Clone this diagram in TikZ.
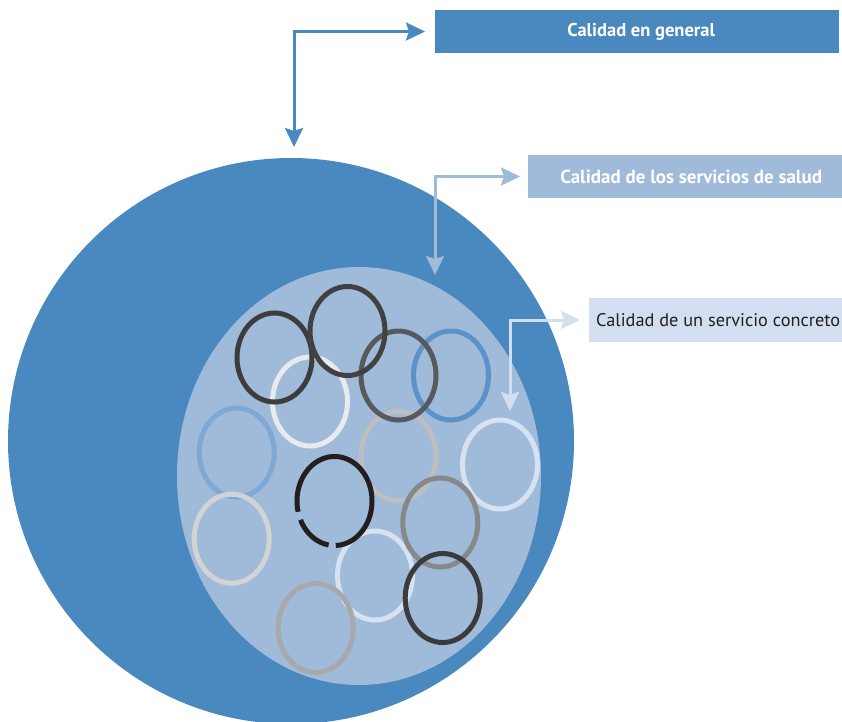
\documentclass[tikz,border=0pt]{standalone}
\usepackage{fontspec}
\setmainfont{PT Sans}
\usetikzlibrary{arrows.meta}
\definecolor{deepblue}{HTML}{4A89C0}
\definecolor{midblue}{HTML}{A0BAD9}
\definecolor{paleblue}{HTML}{D3DFF0}
\definecolor{inkdark}{HTML}{231F20}
\begin{document}
\begin{tikzpicture}[x=1pt,y=-1pt,
  ring/.style={line width=5pt},
  labelbox/.style={anchor=north west, minimum height=43pt, inner sep=0pt},
  elbow/.style={line width=3pt, line join=miter,
    {Stealth[length=19pt,width=18pt,inset=3pt]}-{Stealth[length=19pt,width=18pt,inset=3pt]}}
]
\useasboundingbox (0,0) rectangle (842,721);

% outer and inner discs
\begin{scope}
  \clip (0,0) rectangle (842,721);
  \fill[deepblue] (291,441) circle [radius=283];
\end{scope}
\fill[midblue] (359,476) ellipse [x radius=182, y radius=209];

% individual services
\draw[ring, color={rgb,255:red,214;green,226;blue,241}] (500,464.5) ellipse [x radius=37.5, y radius=44.5];
\draw[ring, color={rgb,255:red,126;green,168;blue,214}] (236.7,452.5) ellipse [x radius=37.5, y radius=44.5];
\draw[ring, color={rgb,255:red,209;green,211;blue,212}] (231.7,538.7) ellipse [x radius=37.5, y radius=44.5];
\draw[ring, color={rgb,255:red,214;green,226;blue,241}] (375,575.5) ellipse [x radius=37.5, y radius=44.5];
\draw[ring, color={rgb,255:red,188;green,190;blue,192}] (398.5,456) ellipse [x radius=37.5, y radius=44.5];
\draw[ring, color={rgb,255:red,232;green,234;blue,238}] (310,401.5) ellipse [x radius=37.5, y radius=44.5];
\draw[ring, color={rgb,255:red,91;green,146;blue,201}] (451,375.5) ellipse [x radius=37.5, y radius=44.5];
\draw[ring, color={rgb,255:red,167;green,169;blue,172}] (315.7,628) ellipse [x radius=37.5, y radius=44.5];
\draw[ring, color={rgb,255:red,135;green,136;blue,138}] (440.3,522.5) ellipse [x radius=37.5, y radius=44.5];
\draw[ring, color={rgb,255:red,88;green,89;blue,91}] (398.5,375.5) ellipse [x radius=37.5, y radius=44.5];
\draw[ring, color={rgb,255:red,61;green,61;blue,61}] (274.5,357.5) ellipse [x radius=37.5, y radius=44.5];
\draw[ring, color={rgb,255:red,65;green,65;blue,65}] (347.5,331) ellipse [x radius=37.5, y radius=44.5];
\draw[ring, color={rgb,255:red,59;green,59;blue,59}] (442.7,598) ellipse [x radius=37.5, y radius=44.5];
% broken ring
\draw[ring, inkdark, line cap=butt] plot[domain=99:155, samples=30, smooth]
  ({334.5+37.5*cos(\x)}, {501+44.5*sin(\x)});
\draw[ring, inkdark, line cap=butt] plot[domain=166:448, samples=120, smooth]
  ({334.5+37.5*cos(\x)}, {501+44.5*sin(\x)});

% labels
\node[labelbox, fill=deepblue, minimum width=404pt, text=white,
  font=\fontsize{18.5}{22}\selectfont\bfseries]
  (general) at (435,10) {\hspace*{8pt}Calidad en general};
\node[labelbox, fill=midblue, minimum width=314pt, text=white,
  font=\fontsize{19}{22}\selectfont\bfseries]
  (salud) at (528,155) {\hspace*{12pt}Calidad de los servicios de salud};
\node[labelbox, fill=paleblue, minimum width=253pt, minimum height=44pt, text=inkdark,
  inner xsep=7pt, font=\fontsize{18.3}{22}\selectfont]
  (concreto) at (589,298) {\makebox[239pt][l]{Calidad de un servicio concreto}};

% elbow pointers
\coordinate (k1) at (294,31.5);
\coordinate (d1) at (294,147);
\draw[elbow, deepblue] (d1) -- (k1) -- ([xshift=-10pt]k1 -| general.west);

\coordinate (k2) at (435,176.5);
\coordinate (d2) at (435,275);
\draw[elbow, midblue] (d2) -- (k2) -- ([xshift=-8pt]k2 -| salud.west);

\coordinate (k3) at (510,320);
\coordinate (d3) at (510,411);
\draw[elbow, paleblue] (d3) -- (k3) -- ([xshift=-9pt]k3 -| concreto.west);
\end{tikzpicture}
\end{document}
